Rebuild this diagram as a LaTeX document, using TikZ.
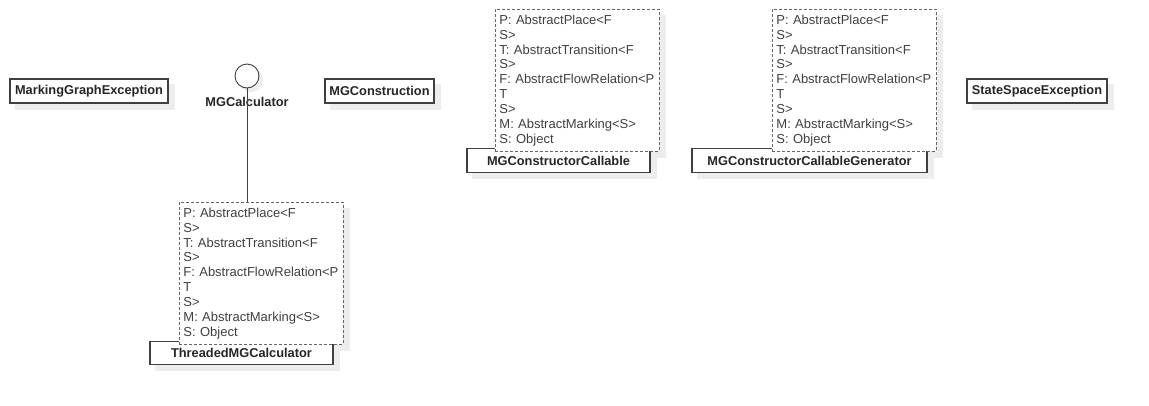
\documentclass[tikz,border=0pt]{standalone}
\usepackage{fontspec}
\setmainfont{Liberation Sans}
\usetikzlibrary{backgrounds}

\newcommand{\typeparams}{P: AbstractPlace<F\\S>\\T: AbstractTransition<F\\S>\\F: AbstractFlowRelation<P\\T\\S>\\M: AbstractMarking<S>\\S: Object}

\begin{document}
\begin{tikzpicture}[
        x=1pt, y=-1pt,
        font=\fontsize{12.8}{13.2}\selectfont,
        umlshadow/.style={fill=black!7, draw=none},
        classbox/.style={draw=black!75, line width=1.1pt, fill=white, font=\fontsize{12.8}{13.2}\selectfont\bfseries, text=black!85, minimum height=24pt, inner sep=0pt},
        tplbox/.style={draw=black!60, dashed, dash pattern=on 3pt off 2pt, line width=0.9pt, fill=white, anchor=north west, align=left, text width=156pt, inner xsep=4pt, inner ysep=0pt, minimum height=142pt, text=black!75, font=\fontsize{13}{14.9}\selectfont, execute at begin node={\hyphenpenalty=10000\hbadness=10000}},
        iface/.style={circle, draw=black!75, line width=0.9pt, fill=white, minimum size=24pt, inner sep=0pt}
    ]
        \useasboundingbox (0,0) rectangle (1149,405);

        % Plain classes in the top row
        \node[classbox, minimum width=158pt] (mgexc) at (89,91) {MarkingGraphException};
        \node[classbox, minimum width=109pt] (mgcons) at (379.5,91) {MGConstruction};
        \node[classbox, minimum width=140pt] (ssexc) at (1037,91) {StateSpaceException};

        % Interface MGCalculator and its realisation
        \node[iface] (calc) at (247,76) {};
        \node[font=\fontsize{12.8}{13.2}\selectfont\bfseries, text=black!85] (calclabel) at (247,101.5) {MGCalculator};
        \node[classbox, minimum width=183pt, minimum height=23pt] (threaded) at (241.5,353) {ThreadedMGCalculator};
        \node[tplbox] (tplthreaded) at (179,202) {\typeparams};
        \draw[black!75, line width=0.9pt] (calc.south) -- (calc.south |- tplthreaded.north);

        % Generic callables
        \node[classbox, minimum width=183pt] (callable) at (558.5,160.5) {MGConstructorCallable};
        \node[tplbox] (tplcallable) at (495,9) {\typeparams};
        \node[classbox, minimum width=235pt] (generator) at (809.5,160.5) {MGConstructorCallableGenerator};
        \node[tplbox] (tplgenerator) at (772,9) {\typeparams};

        % Shadows behind every box
        \begin{scope}[on background layer]
            \foreach \n in {mgexc, mgcons, ssexc, threaded, tplthreaded, callable, tplcallable, generator, tplgenerator}
                \fill[umlshadow] ([shift={(6,6)}]\n.north west) rectangle ([shift={(6,6)}]\n.south east);
            \fill[umlshadow] ([shift={(4,4)}]calc.center) circle (12pt);
        \end{scope}
    \end{tikzpicture}
\end{document}
